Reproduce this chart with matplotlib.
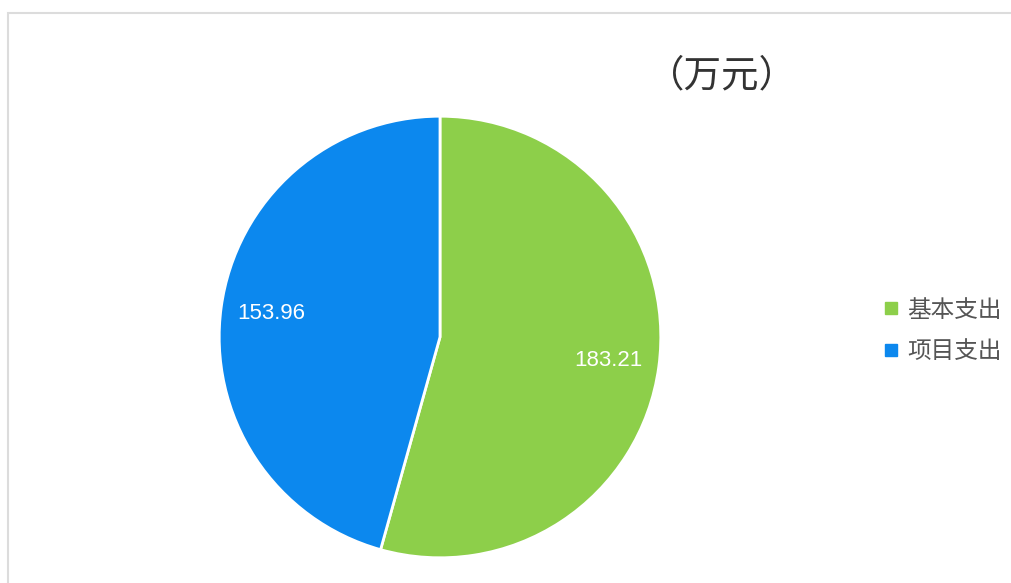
import matplotlib
matplotlib.use("Agg")
import matplotlib.pyplot as plt
from matplotlib.lines import Line2D
from matplotlib.patches import Rectangle

plt.rcParams['font.family'] = ['Noto Sans CJK SC', 'DejaVu Sans']

labels = ['基本支出', '项目支出']
values = [183.21, 153.96]
colors = ['#8DCF4A', '#0C88EE']
title = '（万元）'


def main():
    fig = plt.figure(figsize=(10.11, 5.83), dpi=100)
    W, H = 1011, 583

    # light frame like the source screenshot
    fig.patches.append(Rectangle((8 / W, -0.01), 1.1, 1 - 13 / H + 0.01,
                                 transform=fig.transFigure, fill=False,
                                 edgecolor='#dcdcdc', linewidth=1.5))

    cx, cy, r = 440, 337, 223
    ax = fig.add_axes([(cx - r) / W, (H - cy - r) / H, 2 * r / W, 2 * r / H])
    wedges, texts = ax.pie(values, colors=colors, startangle=90, counterclock=False,
                           labels=[f'{v:.2f}' for v in values], labeldistance=0.77,
                           wedgeprops=dict(edgecolor='white', linewidth=2),
                           textprops=dict(color='white', fontsize=16,
                                          family='Liberation Sans'))
    for t in texts:
        t.set_horizontalalignment('center')
        t.set_verticalalignment('center')
    ax.set_xlim(-1.01, 1.01)
    ax.set_ylim(-1.01, 1.01)
    ax.set_aspect('equal')
    ax.axis('off')

    fig.text(722 / W, 1 - 76 / H, title, ha='center', va='center',
             fontsize=27, color='#333333', fontweight='medium')

    handles = [Line2D([], [], marker='s', linestyle='none', markersize=8,
                      markerfacecolor=c, markeredgecolor=c) for c in colors]
    fig.legend(handles, labels, loc='center left',
               bbox_to_anchor=(871 / W, 1 - 331 / H), frameon=False,
               fontsize=17, labelcolor='#555555', handlelength=0.7,
               handletextpad=0.35, labelspacing=0.8, borderpad=0)

    fig.savefig('out.png', dpi=100, facecolor='white')


if __name__ == "__main__":
    main()
